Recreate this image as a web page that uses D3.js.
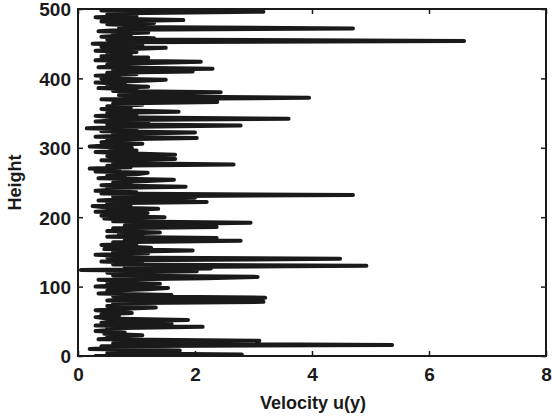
<!DOCTYPE html>
<html>
<head>
<meta charset="utf-8">
<script src="https://cdn.jsdelivr.net/npm/d3@7"></script>
<style>
html,body{margin:0;padding:0;background:#fff;}
svg{display:block;}
text{font-family:"Liberation Sans",Arial,sans-serif;font-weight:bold;fill:#1a1a1a;}
</style>
</head>
<body>
<svg id="chart" width="552" height="418"></svg>
<script>
// Heights 0..500 in steps of 2
const heightStep = 2;
// Velocity u(y) (one value per height step)
const velocity = [
  0.3, 2.8, 0.5, 0.9, 1.74, 0.2, 0.7, 0.4, 5.37, 0.6,
  0.8, 3.1, 0.35, 0.7, 0.5, 1.1, 0.45, 0.8, 0.3, 0.6,
  0.5, 2.13, 0.3, 1.6, 0.4, 0.8, 1.88, 0.5, 0.3, 0.7,
  0.4, 0.92, 0.6, 0.3, 0.8, 1.33, 0.5, 0.9, 0.6, 3.17,
  0.5, 0.9, 3.2, 0.6, 1.6, 0.35, 0.8, 0.5, 1.2, 1.54,
  0.3, 0.7, 1.4, 0.5, 0.9, 0.35, 2.2, 3.07, 0.6, 1.0,
  0.5, 2.03, 0.05, 2.27, 0.8, 4.93, 0.6, 1.1, 0.4, 0.9,
  4.48, 0.5, 0.8, 0.3, 1.2, 0.6, 1.96, 0.45, 1.25, 0.7,
  0.4, 1.0, 0.6, 2.78, 0.8, 2.37, 0.5, 1.1, 0.7, 1.4,
  0.5, 0.9, 0.6, 2.37, 0.8, 1.2, 2.95, 0.6, 1.0, 0.45,
  1.48, 0.4, 0.8, 1.19, 0.3, 0.7, 1.37, 0.5, 0.25, 0.9,
  0.5, 2.2, 0.35, 0.8, 2.0, 0.6, 4.7, 0.4, 1.0, 0.3,
  0.7, 0.5, 1.84, 0.4, 0.9, 0.6, 1.2, 1.64, 0.35, 0.8,
  0.5, 1.0, 1.19, 0.3, 0.7, 0.2, 0.9, 0.5, 2.66, 0.6,
  1.1, 0.4, 1.66, 0.7, 0.5, 1.66, 0.8, 0.3, 1.0, 0.55,
  0.92, 0.2, 0.6, 1.1, 0.4, 0.8, 0.5, 2.03, 0.3, 0.9,
  0.6, 2.0, 0.4, 1.0, 0.15, 0.7, 2.78, 0.5, 1.2, 0.3,
  0.8, 3.6, 0.6, 0.3, 1.0, 0.5, 1.72, 0.7, 0.4, 0.9,
  0.5, 1.1, 0.6, 2.38, 0.9, 0.4, 3.95, 1.3, 0.7, 1.5,
  2.44, 0.6, 1.0, 0.35, 1.2, 0.5, 0.8, 0.3, 0.9, 1.5,
  0.4, 0.7, 0.3, 1.0, 0.5, 1.96, 0.6, 2.3, 0.35, 0.8,
  0.5, 1.1, 2.1, 0.3, 0.7, 1.2, 0.4, 0.9, 0.5, 1.0,
  0.3, 0.8, 1.5, 0.4, 1.1, 0.25, 0.8, 6.6, 0.5, 1.3,
  0.4, 0.9, 0.6, 1.2, 0.35, 0.8, 4.7, 0.7, 1.1, 0.5,
  1.3, 0.4, 1.8, 0.6, 0.3, 1.0, 0.5, 0.8, 3.17, 0.4,
  0.6
];
const xTicks = [0, 2, 4, 6, 8];
const yTicks = [0, 100, 200, 300, 400, 500];
const xLabel = "Velocity u(y)";
const yLabel = "Height";

const W = 552, H = 418;
const m = {left: 78, right: 6, top: 9, bottom: 62};
const svg = d3.select("#chart");
const x = d3.scaleLinear().domain([0, 8]).range([m.left, W - m.right]);
const y = d3.scaleLinear().domain([0, 500]).range([H - m.bottom, m.top]);

svg.append("clipPath").attr("id", "clip").append("rect")
  .attr("x", m.left).attr("y", m.top)
  .attr("width", W - m.left - m.right).attr("height", H - m.top - m.bottom);

const data = velocity.map((v, i) => ({v: v, h: i * heightStep}));
const line = d3.line().x(d => x(d.v)).y(d => y(d.h));
svg.append("path").datum(data)
  .attr("clip-path", "url(#clip)")
  .attr("d", line)
  .attr("fill", "none")
  .attr("stroke", "#1a1a1a")
  .attr("stroke-width", 4)
  .attr("stroke-linejoin", "round")
  .attr("stroke-linecap", "round");

const tickLen = 5;
const gx = svg.append("g").attr("transform", `translate(0,${H - m.bottom})`)
  .call(d3.axisBottom(x).tickValues(xTicks).tickSizeInner(-tickLen).tickSizeOuter(0).tickPadding(12).tickFormat(d3.format("d")));
const gxt = svg.append("g").attr("transform", `translate(0,${m.top})`)
  .call(d3.axisTop(x).tickValues(xTicks).tickSizeInner(-tickLen).tickSizeOuter(0).tickFormat(""));
const gy = svg.append("g").attr("transform", `translate(${m.left},0)`)
  .call(d3.axisLeft(y).tickValues(yTicks).tickSizeInner(-tickLen).tickSizeOuter(0).tickPadding(7).tickFormat(d3.format("d")));
const gyr = svg.append("g").attr("transform", `translate(${W - m.right},0)`)
  .call(d3.axisRight(y).tickValues(yTicks).tickSizeInner(-tickLen).tickSizeOuter(0).tickFormat(""));

[gx, gxt, gy, gyr].forEach(g => {
  g.select(".domain").remove();
  g.selectAll(".tick line").attr("stroke", "#1a1a1a").attr("stroke-width", 1.5);
  g.selectAll(".tick text").style("font-size", "19px").style("font-family", "'Liberation Sans', Arial, sans-serif").style("font-weight", "bold").attr("fill", "#1a1a1a");
});
gx.selectAll(".tick text").attr("dy", "0.71em");
gy.selectAll(".tick text").attr("dy", "0.36em");

svg.append("rect")
  .attr("x", m.left).attr("y", m.top)
  .attr("width", W - m.left - m.right).attr("height", H - m.top - m.bottom)
  .attr("fill", "none").attr("stroke", "#1a1a1a").attr("stroke-width", 2);

svg.append("text")
  .attr("x", 313).attr("y", 409)
  .attr("text-anchor", "middle").style("font-size", "18px")
  .text(xLabel);
svg.append("text")
  .attr("transform", `translate(21,${(m.top + H - m.bottom) / 2}) rotate(-90)`)
  .attr("text-anchor", "middle").style("font-size", "18px")
  .text(yLabel);
</script>
</body>
</html>
